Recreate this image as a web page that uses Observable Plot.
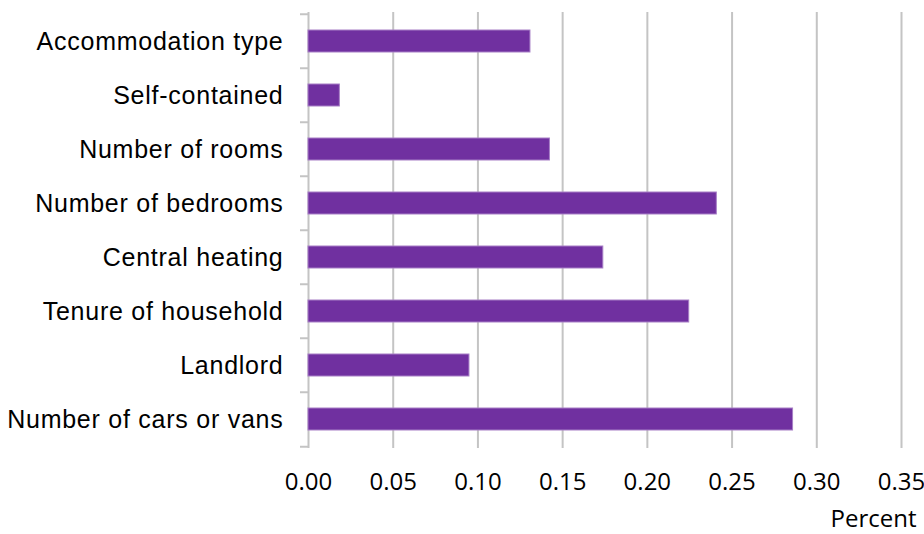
<!DOCTYPE html>
<html>
<head>
<meta charset="utf-8">
<script src="https://cdn.jsdelivr.net/npm/d3@7"></script>
<script src="https://cdn.jsdelivr.net/npm/@observablehq/plot@0.6"></script>
<style>
  html, body { margin: 0; padding: 0; background: #fff; }
  #chart svg { display: block; }
  #chart g[aria-label="y-axis tick label"] text { letter-spacing: 0.75px; }
</style>
</head>
<body>
<div id="chart"></div>
<script>
const categories = [
  "Accommodation type",
  "Self-contained",
  "Number of rooms",
  "Number of bedrooms",
  "Central heating",
  "Tenure of household",
  "Landlord",
  "Number of cars or vans"
];
const values = [0.131, 0.0185, 0.1425, 0.241, 0.174, 0.2247, 0.095, 0.286];
const xTicks = [0, 0.05, 0.10, 0.15, 0.20, 0.25, 0.30, 0.35];
const xLabel = "Percent";

const data = categories.map((c, i) => ({category: c, value: values[i]}));
const step = (534 - 12 - 86) / categories.length;

const chart = Plot.plot({
  width: 924,
  height: 534,
  marginLeft: 308,
  marginRight: 23,
  marginTop: 12,
  marginBottom: 86,
  style: {background: "#fff", overflow: "visible"},
  x: {domain: [0, 0.35], ticks: xTicks},
  y: {domain: categories, paddingInner: 0.6, paddingOuter: 0.3},
  marks: [
    Plot.gridX(xTicks.slice(1), {stroke: "#c4c4c4", strokeOpacity: 1, strokeWidth: 2}),
    Plot.ruleX([0], {stroke: "#c4c4c4", strokeWidth: 2}),
    Plot.axisY({tickSize: 8, text: null, label: null, dy: -step / 2, stroke: "#c4c4c4", strokeWidth: 2}),
    Plot.axisY([categories[categories.length - 1]], {tickSize: 8, text: null, label: null, dy: step / 2, stroke: "#c4c4c4", strokeWidth: 2}),
    Plot.axisY({tickSize: 0, tickPadding: 25, fontSize: 25, fill: "#000",
      fontFamily: "'Liberation Sans', Arial, sans-serif", label: null}),
    Plot.barX(data, {x: "value", y: "category", fill: "#7030A0", stroke: "#a77fc6", strokeWidth: 1}),
    Plot.axisX(xTicks, {tickSize: 0, tickPadding: 24, fontSize: 24, fill: "#000",
      fontFamily: "'Open Sans', sans-serif", tickFormat: d3.format(".2f"), label: null}),
    Plot.text([xLabel], {frameAnchor: "bottom-right", textAnchor: "end", dx: 15, dy: 78,
      fontSize: 24, fill: "#000", fontFamily: "'Open Sans', sans-serif"})
  ]
});
document.getElementById("chart").appendChild(chart);
</script>
</body>
</html>
